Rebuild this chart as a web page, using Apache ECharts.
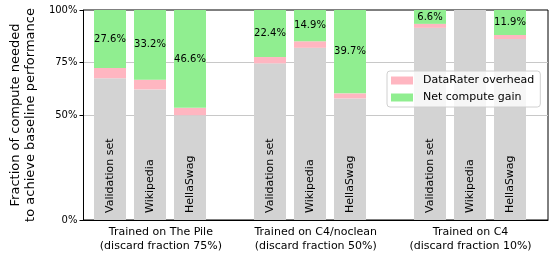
<!DOCTYPE html>
<html><head><meta charset="utf-8">
<script src="https://cdn.jsdelivr.net/npm/echarts@6/dist/echarts.min.js"></script>
<style>html,body{margin:0;padding:0;background:#fff}#c{width:555px;height:258px}</style>
</head><body><div id="c"></div>
<script>
const groups = ['Trained on The Pile\n(discard fraction 75%)', 'Trained on C4/noclean\n(discard fraction 50%)', 'Trained on C4\n(discard fraction 10%)'];
const evalSets = ['Validation set','Wikipedia','HellaSwag','Validation set','Wikipedia','HellaSwag','Validation set','Wikipedia','HellaSwag'];
const positions = [0,1,2,4,5,6,8,9,10];
const baseline = [67.5, 62.2, 49.9, 74.6, 82.0, 57.9, 91.5, 100, 86.2];
const overhead = [4.9, 4.6, 3.5, 3.0, 3.1, 2.4, 1.9, 0, 1.9];
const gain = [27.6, 33.2, 46.6, 22.4, 14.9, 39.7, 6.6, 0, 11.9];
const yTicks = [0, 50, 75, 100];

const FONT = 'DejaVu Sans';
const slots = Array.from({length: 11}, (_, i) => String(i));
const nameAt = {};
positions.forEach((p, i) => { nameAt[p] = evalSets[i]; });
const spread = arr => {
  const out = slots.map(() => null);
  arr.forEach((v, i) => { out[positions[i]] = v; });
  return out;
};
const chart = echarts.init(document.getElementById('c'));
chart.setOption({
  animation: false,
  textStyle: {fontFamily: FONT},
  grid: [
    {left: 71, right: 7, top: 10, bottom: 38, show: true, borderColor: '#000', borderWidth: 1, backgroundColor: 'transparent'},
    {left: 90, right: 25, top: 10, bottom: 38}
  ],
  legend: {
    orient: 'vertical', left: 387, top: 71,
    data: ['DataRater overhead', 'Net compute gain'],
    icon: 'rect', itemWidth: 22, itemHeight: 8, itemGap: 6,
    padding: [4, 6, 4, 4],
    backgroundColor: 'rgba(255,255,255,0.8)', borderColor: '#d0d0d0', borderWidth: 1, borderRadius: 3,
    textStyle: {fontFamily: FONT, fontSize: 11, color: '#000', padding: [0, 0, 0, 5]}
  },
  xAxis: [
    {type: 'category', data: groups, gridIndex: 0, position: 'bottom',
     axisLine: {lineStyle: {color: '#000', width: 1}},
     axisTick: {alignWithLabel: true, length: 4, lineStyle: {color: '#000'}},
     axisLabel: {interval: 0, fontFamily: FONT, fontSize: 11, color: '#000', lineHeight: 14, margin: 5},
     splitLine: {show: false}},
    {type: 'category', data: slots, gridIndex: 1, show: false, boundaryGap: true}
  ],
  yAxis: [
    {type: 'value', min: 0, max: 100, interval: 25, gridIndex: 0,
     name: 'Fraction of compute needed\nto achieve baseline performance',
     nameLocation: 'middle', nameGap: 42,
     nameTextStyle: {fontFamily: FONT, fontSize: 13, color: '#000', lineHeight: 15},
     axisLine: {show: true, lineStyle: {color: '#000', width: 1}},
     axisTick: {show: true, length: 4, lineStyle: {color: '#000'}, customValues: yTicks},
     axisLabel: {fontFamily: FONT, fontSize: 10, color: '#000', margin: 6, customValues: yTicks,
       formatter: v => v + '%'},
     splitLine: {show: true, lineStyle: {color: ['rgba(0,0,0,0)', '#c8c8c8', '#c8c8c8', 'rgba(0,0,0,0)'], width: 1}}},
    {type: 'value', min: 0, max: 100, gridIndex: 1, show: false, splitLine: {show: false}}
  ],
  series: [
    {name: 'Baseline', type: 'bar', stack: 's', xAxisIndex: 1, yAxisIndex: 1, barWidth: 32,
     data: spread(baseline), itemStyle: {color: '#d3d3d3'},
     label: {show: true, position: 'insideBottom', rotate: 90, align: 'left', verticalAlign: 'middle', distance: 7,
       fontFamily: FONT, fontSize: 11, color: '#000',
       formatter: p => nameAt[p.dataIndex] || ''}},
    {name: 'DataRater overhead', type: 'bar', stack: 's', xAxisIndex: 1, yAxisIndex: 1, barWidth: 32,
     data: spread(overhead), itemStyle: {color: '#ffb6c1'}},
    {name: 'Net compute gain', type: 'bar', stack: 's', xAxisIndex: 1, yAxisIndex: 1, barWidth: 32,
     data: spread(gain), itemStyle: {color: '#90ee90'},
     label: {show: true, position: 'inside', fontFamily: FONT, fontSize: 10, color: '#000',
       formatter: p => p.value > 0 ? p.value.toFixed(1) + '%' : ''}}
  ]
});
</script></body></html>
